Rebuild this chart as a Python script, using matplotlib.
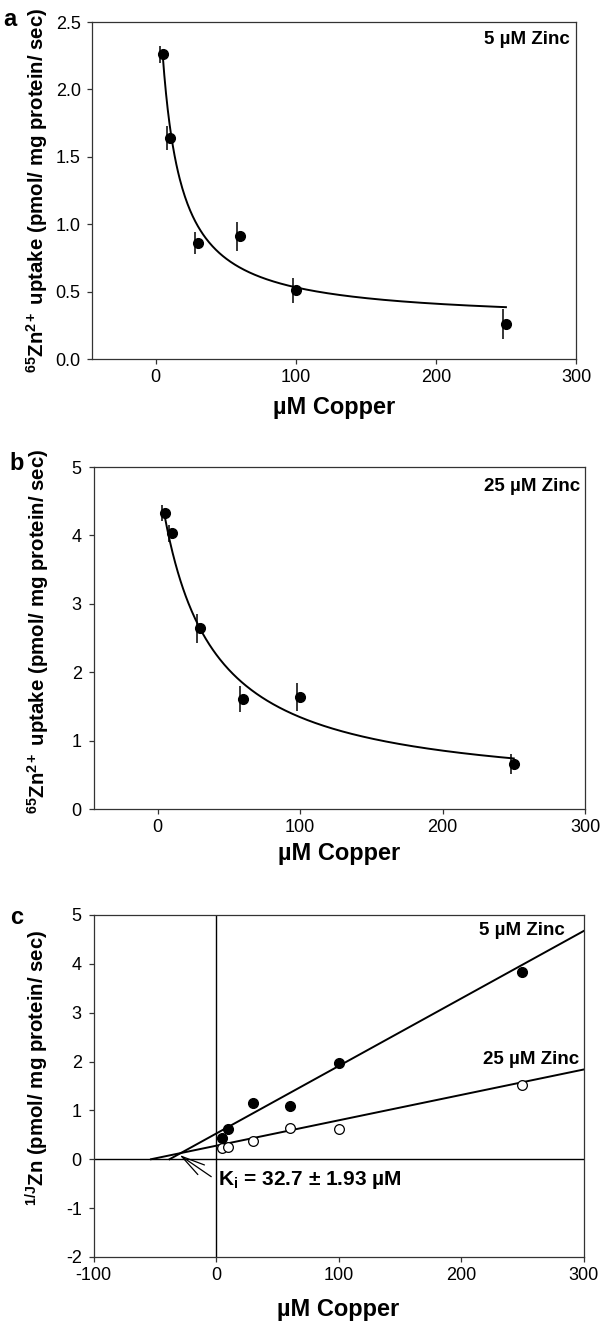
import numpy as np
import matplotlib
matplotlib.use("Agg")
import matplotlib.pyplot as plt
import matplotlib.transforms as mtransforms

plt.rcParams['font.family'] = ['Liberation Sans', 'DejaVu Sans']
plt.rcParams['mathtext.fontset'] = 'custom'
plt.rcParams['mathtext.rm'] = 'Liberation Sans'
plt.rcParams['mathtext.bf'] = 'Liberation Sans:bold'
plt.rcParams['mathtext.it'] = 'Liberation Sans:italic'
plt.rcParams['axes.unicode_minus'] = False

# datos
copper = [5, 10, 30, 60, 100, 250]

uptake_5zn = [2.26, 1.64, 0.86, 0.91, 0.51, 0.26]
err_5zn = [0.065, 0.09, 0.08, 0.11, 0.095, 0.11]

uptake_25zn = [4.33, 4.03, 2.64, 1.61, 1.64, 0.66]
err_25zn = [0.12, 0.12, 0.21, 0.19, 0.21, 0.145]

inv_5zn = [0.44, 0.61, 1.16, 1.09, 1.96, 3.83]
inv_25zn = [0.22, 0.245, 0.375, 0.63, 0.61, 1.51]

# curvas ajustadas (y = c + A / (1 + x/K))
fit_5zn = {'A': 3.11, 'K': 8.9, 'c': 0.278}
fit_25zn = {'A': 4.71, 'K': 31.7, 'c': 0.21}

# rectas de Dixon (pendiente, ordenada)
line_5zn = (0.01382, 0.524)
line_25zn = (0.0052, 0.276)

ki_text = r'$\mathbf{K_i}$ = 32.7 ± 1.93 µM'
ki_point = (-29.8, 0.088)

fig = plt.figure(figsize=(6.01, 13.22), dpi=100)
ax_a = fig.add_axes([0.1539, 0.7284, 0.8045, 0.2549])
ax_b = fig.add_axes([0.1556, 0.3880, 0.8178, 0.2587])
ax_c = fig.add_axes([0.1556, 0.0492, 0.8153, 0.2587])

spine_col = '#333333'


def style(ax):
    for s in ax.spines.values():
        s.set_linewidth(0.9)
        s.set_color(spine_col)
    ax.tick_params(direction='out', length=3.5, width=0.9, color=spine_col,
                   labelsize=13, top=False, right=False)
    ax.tick_params(axis='x', pad=4)
    ax.tick_params(axis='y', pad=5)
    ax.set_xlabel('µM Copper', fontsize=17, fontweight='bold')
    ax.xaxis.label.set_va('center')


def ylabel(ax, txt, x, y):
    ax.set_ylabel(txt, fontsize=14.7, fontweight='bold')
    ax.yaxis.label.set_va('center')
    ax.yaxis.set_label_coords(x, y)


def hyper(fit, x):
    return fit['c'] + fit['A'] / (1 + x / fit['K'])


ylab1 = r'$\mathbf{^{65}Zn^{2+}}$ uptake (pmol/ mg protein/ sec)'

# panel a
ax = ax_a
shift = mtransforms.offset_copy(ax.transData, fig=fig, x=-3, units='dots')
ax.vlines(copper, np.array(uptake_5zn) - err_5zn, np.array(uptake_5zn) + err_5zn,
          colors='black', linewidth=1.1, transform=shift)
xs = np.linspace(copper[0], copper[-1], 400)
ax.plot(xs, hyper(fit_5zn, xs), color='black', linewidth=1.4)
ax.plot(copper, uptake_5zn, 'o', color='black', markersize=7)
ax.set_xlim(-45, 300)
ax.set_ylim(0, 2.5)
ax.set_xticks([0, 100, 200, 300])
ax.set_yticks([0, 0.5, 1.0, 1.5, 2.0, 2.5])
ax.set_yticklabels(['0.0', '0.5', '1.0', '1.5', '2.0', '2.5'])
style(ax)
ax.xaxis.set_label_coords(0.5, -0.145)
ylabel(ax, ylab1, -0.114, 0.5)
ax.text(0.988, 0.949, '5 µM Zinc', transform=ax.transAxes, ha='right', va='center',
        fontsize=13.5, fontweight='bold')
fig.text(10 / 601, 1 - 19 / 1322, 'a', fontsize=17, fontweight='bold', ha='center', va='center')

# panel b
ax = ax_b
shift = mtransforms.offset_copy(ax.transData, fig=fig, x=-3, units='dots')
ax.vlines(copper, np.array(uptake_25zn) - err_25zn, np.array(uptake_25zn) + err_25zn,
          colors='black', linewidth=1.1, transform=shift)
ax.plot(xs, hyper(fit_25zn, xs), color='black', linewidth=1.4)
ax.plot(copper, uptake_25zn, 'o', color='black', markersize=7)
ax.set_xlim(-45, 300)
ax.set_ylim(0, 5)
ax.set_xticks([0, 100, 200, 300])
ax.set_yticks([0, 1, 2, 3, 4, 5])
style(ax)
ax.xaxis.set_label_coords(0.5, -0.129)
ylabel(ax, ylab1, -0.113, 0.52)
ax.text(0.99, 0.942, '25 µM Zinc', transform=ax.transAxes, ha='right', va='center',
        fontsize=13.5, fontweight='bold')
fig.text(17 / 601, 1 - 464 / 1322, 'b', fontsize=17, fontweight='bold', ha='center', va='center')

# panel c
ax = ax_c
ax.axvline(0, color='black', linewidth=1.0)
ax.axhline(0, color='black', linewidth=1.0)
for m, b in (line_5zn, line_25zn):
    lx = np.array([-b / m, 300])
    ax.plot(lx, m * lx + b, color='black', linewidth=1.4)
ax.plot(copper, inv_5zn, 'o', color='black', markersize=7)
ax.plot(copper, inv_25zn, 'o', markerfacecolor='white', markeredgecolor='black',
        markeredgewidth=0.9, markersize=7)
ax.annotate('', xy=ki_point, xytext=(-3.9, -0.357),
            arrowprops=dict(arrowstyle='->, head_length=0.85, head_width=0.21',
                            color='black', linewidth=0.9, mutation_scale=20,
                            shrinkA=0, shrinkB=0))
ax.text(1.6, -0.42, ki_text, fontsize=15, fontweight='bold', ha='left', va='center')
ax.text(285, 4.69, '5 µM Zinc', fontsize=13.5, fontweight='bold', ha='right', va='center')
ax.text(296.7, 2.05, '25 µM Zinc', fontsize=13.5, fontweight='bold', ha='right', va='center')
ax.set_xlim(-100, 300)
ax.set_ylim(-2, 5)
ax.set_xticks([-100, 0, 100, 200, 300])
ax.set_yticks([-2, -1, 0, 1, 2, 3, 4, 5])
style(ax)
ax.xaxis.set_label_coords(0.5, -0.155)
ylabel(ax, r'$\mathbf{^{1/J}Zn}$ (pmol/ mg protein/ sec)', -0.115, 0.553)
fig.text(17 / 601, 1 - 918 / 1322, 'c', fontsize=17, fontweight='bold', ha='center', va='center')

fig.savefig('out.png', dpi=100)
